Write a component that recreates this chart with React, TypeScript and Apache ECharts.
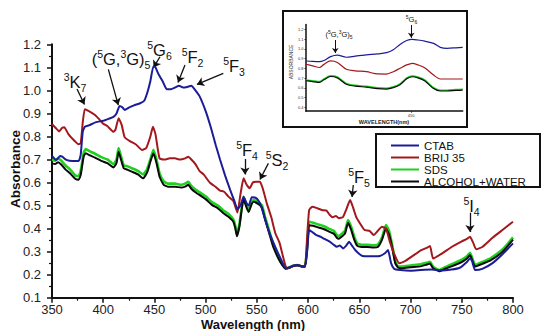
import React, { useEffect, useRef } from "react";
import * as echarts from "echarts";

const FONT = "'Liberation Sans', Arial, Helvetica, sans-serif";

// ---------- Main chart data ----------
const seriesNames = ["CTAB", "BRIJ 35", "SDS", "ALCOHOL+WATER"];
const seriesColors = ["#1c1c96", "#a3181c", "#1fd11f", "#0a0a0a"];

const xTickMin = 350;
const xTickMax = 800;
const xTickStep = 50;
const yTickMin = 0.1;
const yTickMax = 1.2;
const yTickStep = 0.1;

const ctabWl = [350, 354, 358, 360, 364, 370, 376, 378, 380, 382, 386, 393, 400, 406, 410, 413, 416, 419, 421, 425, 430, 436, 440, 443, 446, 449, 451, 454, 458, 462, 466, 470, 474, 478, 482, 486, 490, 494, 500, 505, 510, 514, 519, 524, 528, 531, 534, 537, 540, 542, 545, 548, 551, 554, 558, 562, 566, 570, 574, 578, 582, 586, 590, 594, 597, 599, 601, 604, 608, 612, 616, 621, 625, 628, 631, 634, 637, 640, 643, 646, 650, 653, 660, 665, 670, 675, 678, 681, 684, 690, 700, 710, 720, 730, 740, 748, 755, 758, 760, 763, 770, 780, 790, 800];
const ctabAbs = [0.715, 0.698, 0.715, 0.712, 0.698, 0.693, 0.693, 0.72, 0.82, 0.842, 0.848, 0.862, 0.868, 0.878, 0.885, 0.9, 0.932, 0.925, 0.915, 0.925, 0.935, 0.944, 0.955, 0.99, 1.04, 1.105, 1.1, 1.07, 1.04, 1.005, 1.005, 1.012, 1.02, 1.012, 1.015, 1.02, 1.0, 0.975, 0.91, 0.84, 0.76, 0.7, 0.63, 0.567, 0.52, 0.485, 0.5, 0.538, 0.51, 0.5, 0.536, 0.535, 0.525, 0.5, 0.44, 0.385, 0.34, 0.3, 0.262, 0.228, 0.232, 0.24, 0.242, 0.236, 0.236, 0.3, 0.394, 0.385, 0.372, 0.365, 0.355, 0.343, 0.33, 0.321, 0.327, 0.314, 0.325, 0.343, 0.325, 0.307, 0.29, 0.281, 0.28, 0.28, 0.281, 0.293, 0.307, 0.25, 0.225, 0.22, 0.217, 0.22, 0.222, 0.218, 0.222, 0.23, 0.255, 0.271, 0.26, 0.22, 0.225, 0.25, 0.29, 0.336];

const brijWl = [350, 354, 357, 360, 362, 366, 370, 376, 378, 380, 382, 386, 392, 396, 400, 404, 410, 412, 415, 418, 421, 426, 432, 438, 442, 446, 448.5, 451, 455, 460, 465, 470, 475, 480, 483, 486, 490, 494, 498, 504, 510, 514, 518, 522, 527, 531, 534, 537, 540, 543, 546, 549, 553, 556, 560, 564, 568, 572, 576, 579, 583, 587, 590, 594, 597, 599, 601, 604, 608, 614, 618, 621, 624, 627, 630, 634, 637, 641, 644, 647, 651, 655, 660, 664, 668, 672, 676, 680, 684, 689, 695, 700, 705, 710, 715, 719, 722, 730, 740, 750, 755, 758, 761, 764, 770, 780, 790, 800];
const brijAbs = [0.854, 0.835, 0.822, 0.838, 0.84, 0.81, 0.79, 0.766, 0.77, 0.86, 0.918, 0.91, 0.893, 0.875, 0.855, 0.845, 0.82, 0.83, 0.879, 0.85, 0.796, 0.78, 0.765, 0.741, 0.75, 0.8, 0.842, 0.81, 0.705, 0.7, 0.705, 0.705, 0.7, 0.705, 0.712, 0.7, 0.68, 0.65, 0.635, 0.6, 0.58, 0.565, 0.56, 0.54, 0.52, 0.47, 0.55, 0.618, 0.59, 0.575, 0.6, 0.603, 0.603, 0.57, 0.505, 0.45, 0.38, 0.34, 0.27, 0.228, 0.232, 0.24, 0.242, 0.236, 0.236, 0.36, 0.48, 0.495, 0.49, 0.48, 0.478, 0.46, 0.449, 0.455, 0.445, 0.45, 0.48, 0.524, 0.49, 0.45, 0.42, 0.394, 0.39, 0.372, 0.39, 0.408, 0.4, 0.34, 0.29, 0.25, 0.26, 0.275, 0.29, 0.305, 0.315, 0.324, 0.27, 0.29, 0.32, 0.345, 0.355, 0.365, 0.34, 0.31, 0.32, 0.36, 0.395, 0.43];

const sdsWl = [350, 353, 356, 359, 363, 368, 373, 376, 378, 381, 383, 387, 392, 398, 404, 410, 413, 415, 417, 420, 424, 428, 434, 439, 443, 446, 449, 452, 455, 459, 463, 470, 476, 480, 483, 486, 490, 495, 500, 506, 512, 517, 522, 527, 529, 530.5, 533, 537, 540, 542, 545, 547, 552, 555, 558, 562, 566, 571, 575, 578, 582, 586, 590, 594, 597, 599, 601, 605, 610, 615, 620, 625, 628, 630, 633, 636, 639, 642, 645, 648, 652, 658, 664, 668, 672, 676, 679, 682, 685, 688, 692, 700, 710, 716, 719, 722, 728, 735, 742, 750, 755, 758, 760, 763, 770, 778, 790, 800];
const sdsAbs = [0.7, 0.695, 0.705, 0.695, 0.675, 0.655, 0.63, 0.628, 0.65, 0.73, 0.745, 0.735, 0.725, 0.71, 0.7, 0.68, 0.7, 0.75, 0.72, 0.675, 0.67, 0.662, 0.65, 0.635, 0.66, 0.7, 0.742, 0.7, 0.64, 0.605, 0.595, 0.595, 0.59, 0.595, 0.603, 0.585, 0.57, 0.555, 0.54, 0.515, 0.5, 0.48, 0.465, 0.44, 0.41, 0.375, 0.42, 0.538, 0.5, 0.48, 0.515, 0.524, 0.512, 0.5, 0.45, 0.39, 0.33, 0.278, 0.245, 0.228, 0.232, 0.24, 0.242, 0.236, 0.236, 0.32, 0.43, 0.425, 0.418, 0.411, 0.4, 0.39, 0.372, 0.368, 0.378, 0.39, 0.437, 0.408, 0.365, 0.336, 0.33, 0.33, 0.328, 0.33, 0.36, 0.415, 0.39, 0.33, 0.26, 0.235, 0.235, 0.24, 0.245, 0.252, 0.256, 0.235, 0.22, 0.235, 0.249, 0.265, 0.28, 0.295, 0.275, 0.242, 0.255, 0.271, 0.31, 0.362];

const awWl = sdsWl;
const awAbs = [0.683, 0.68, 0.688, 0.678, 0.657, 0.638, 0.615, 0.612, 0.632, 0.715, 0.727, 0.718, 0.708, 0.694, 0.684, 0.665, 0.685, 0.734, 0.705, 0.662, 0.655, 0.647, 0.635, 0.618, 0.645, 0.69, 0.727, 0.685, 0.625, 0.59, 0.582, 0.582, 0.578, 0.582, 0.59, 0.573, 0.558, 0.543, 0.528, 0.503, 0.488, 0.468, 0.452, 0.43, 0.4, 0.367, 0.41, 0.528, 0.49, 0.472, 0.508, 0.516, 0.505, 0.49, 0.44, 0.38, 0.32, 0.27, 0.24, 0.226, 0.23, 0.238, 0.24, 0.234, 0.234, 0.31, 0.415, 0.412, 0.405, 0.398, 0.388, 0.378, 0.36, 0.356, 0.366, 0.378, 0.425, 0.395, 0.352, 0.325, 0.32, 0.32, 0.318, 0.32, 0.35, 0.4, 0.375, 0.32, 0.25, 0.23, 0.228, 0.232, 0.236, 0.244, 0.248, 0.228, 0.215, 0.228, 0.24, 0.255, 0.27, 0.285, 0.265, 0.235, 0.247, 0.262, 0.3, 0.352];

// ---------- Inset data ----------
const insetWl = [403, 406, 409, 411, 414, 417, 421, 425, 430, 435, 439, 442, 445, 448, 450.5, 453, 456, 460, 463, 466, 470, 473];
const insetCtab = [0.875, 0.87, 0.868, 0.88, 0.92, 0.935, 0.913, 0.925, 0.938, 0.947, 0.96, 0.99, 1.045, 1.085, 1.097, 1.09, 1.078, 1.056, 1.015, 1.005, 1.01, 1.015];
const insetBrij = [0.841, 0.825, 0.808, 0.84, 0.875, 0.86, 0.79, 0.774, 0.765, 0.742, 0.741, 0.765, 0.8, 0.835, 0.851, 0.835, 0.805, 0.731, 0.69, 0.69, 0.69, 0.69];
const insetSds = [0.68, 0.672, 0.663, 0.69, 0.724, 0.71, 0.645, 0.625, 0.615, 0.6, 0.595, 0.61, 0.64, 0.7, 0.721, 0.71, 0.68, 0.6, 0.575, 0.575, 0.582, 0.585];
const insetAw = [0.672, 0.664, 0.655, 0.682, 0.716, 0.702, 0.637, 0.617, 0.607, 0.592, 0.587, 0.602, 0.632, 0.692, 0.713, 0.702, 0.672, 0.592, 0.567, 0.567, 0.574, 0.577];
const insetYTicks = [0.4, 0.5, 0.6, 0.7, 0.8, 0.9, 1.0, 1.1, 1.2];
const insetXTicks = [450];

// ---------- Annotations ----------
const mainArrows = [
  [[374.4, 1.006], [381.7, 0.939]],
  [[405.0, 1.091], [414.7, 0.936]],
  [[455.4, 1.146], [449.1, 1.099]],
  [[479.8, 1.11], [473.0, 1.034]],
  [[517.2, 1.074], [491.5, 1.026]],
  [[538.4, 0.702], [538.4, 0.635]],
  [[561.2, 0.683], [553.0, 0.613]],
  [[644.1, 0.589], [642.9, 0.537]],
  [[758.0, 0.469], [758.0, 0.385]],
];
const insetArrows = [
  [[416.1, 1.09], [416.1, 0.956]],
  [[450.0, 1.244], [450.0, 1.112]],
];

function pairs(xs: number[], ys: number[]) {
  return xs.map((x, i) => [x, ys[i]]);
}

function term(sup: string, main: string, sub: string) {
  return `{sup|${sup}}{m|${main}}{sub|${sub}}`;
}

const mainRich = {
  m: { fontSize: 16.5, fontFamily: FONT, fill: "#111", lineHeight: 22 },
  sup: { fontSize: 10.5, fontFamily: FONT, fill: "#111", verticalAlign: "top", lineHeight: 22 },
  sub: { fontSize: 10.5, fontFamily: FONT, fill: "#111", verticalAlign: "bottom", lineHeight: 22 },
};
const insetRich = {
  m: { fontSize: 7.5, fontFamily: FONT, fill: "#111", lineHeight: 10 },
  sup: { fontSize: 5, fontFamily: FONT, fill: "#111", verticalAlign: "top", lineHeight: 10 },
  sub: { fontSize: 5, fontFamily: FONT, fill: "#111", verticalAlign: "bottom", lineHeight: 10 },
};

const mainLabels = [
  { text: term("3", "K", "7"), x: 75, y: 82 },
  { text: `{m|(}{sup|5}{m|G,}{sup|3}{m|G)}{sub|5}`, x: 121, y: 59 },
  { text: term("5", "G", "6"), x: 159.5, y: 50 },
  { text: term("5", "F", "2"), x: 192.5, y: 57 },
  { text: term("5", "F", "3"), x: 234, y: 66 },
  { text: term("5", "F", "4"), x: 247, y: 150 },
  { text: term("5", "S", "2"), x: 277, y: 160 },
  { text: term("5", "F", "5"), x: 359, y: 177 },
  { text: term("5", "I", "4"), x: 471.5, y: 206 },
];
const insetLabels = [
  { text: `{m|(}{sup|5}{m|G,}{sup|3}{m|G)}{sub|5}`, x: 339, y: 34 },
  { text: term("5", "G", "6"), x: 411.5, y: 19 },
];

function arrowData(list: number[][][]) {
  return list.map(([a, b]) => [{ coord: a }, { coord: b }]);
}

export default function App() {
  const ref = useRef<HTMLDivElement>(null);

  useEffect(() => {
    if (!ref.current) return;
    const chart = echarts.init(ref.current, undefined, { renderer: "svg" });

    const mainData = [
      pairs(ctabWl, ctabAbs),
      pairs(brijWl, brijAbs),
      pairs(sdsWl, sdsAbs),
      pairs(awWl, awAbs),
    ];
    const insetData = [
      pairs(insetWl, insetCtab),
      pairs(insetWl, insetBrij),
      pairs(insetWl, insetSds),
      pairs(insetWl, insetAw),
    ];
    const drawOrder = [2, 3, 1, 0];

    const mainSeries: any[] = drawOrder.map((i) => ({
      name: seriesNames[i],
      type: "line",
      xAxisIndex: 0,
      yAxisIndex: 0,
      data: mainData[i],
      showSymbol: false,
      symbol: "none",
      smooth: 0.15,
      lineStyle: { color: seriesColors[i], width: i === 2 ? 2.6 : 2 },
      itemStyle: { color: seriesColors[i] },
      z: 3 + drawOrder.indexOf(i),
      silent: true,
    }));
    mainSeries[mainSeries.length - 1].markLine = {
      silent: true,
      symbol: ["none", "arrow"],
      symbolSize: 7,
      label: { show: false },
      lineStyle: { color: "#111", width: 1.3, type: "solid" },
      emphasis: { disabled: true },
      data: arrowData(mainArrows),
    };

    const insetSeries: any[] = drawOrder.map((i) => ({
      name: seriesNames[i] + " (inset)",
      type: "line",
      xAxisIndex: 1,
      yAxisIndex: 1,
      data: insetData[i],
      showSymbol: false,
      symbol: "none",
      smooth: 0.3,
      lineStyle: { color: seriesColors[i], width: i === 2 ? 1.6 : 1.2 },
      itemStyle: { color: seriesColors[i] },
      silent: true,
    }));
    insetSeries[insetSeries.length - 1].markLine = {
      silent: true,
      symbol: ["none", "arrow"],
      symbolSize: 5,
      label: { show: false },
      lineStyle: { color: "#111", width: 1, type: "solid" },
      emphasis: { disabled: true },
      data: arrowData(insetArrows),
    };

    const axisLabelStyle = { color: "#222", fontSize: 13, fontFamily: FONT };

    chart.setOption({
      animation: false,
      backgroundColor: "#ffffff",
      textStyle: { fontFamily: FONT },
      grid: [
        { left: 52, top: 44.3, right: 29, bottom: 33.3, containLabel: false },
        { left: 306, top: 24.4, width: 156.7, height: 86.8, containLabel: false },
      ],
      xAxis: [
        {
          type: "value",
          gridIndex: 0,
          min: xTickMin,
          max: xTickMax,
          interval: xTickStep,
          axisLine: { show: true, onZero: false, lineStyle: { color: "#111", width: 2 } },
          axisTick: { show: true, length: 5, lineStyle: { color: "#111", width: 1.5 } },
          minorTick: { show: true, splitNumber: 2, length: 3, lineStyle: { color: "#111", width: 1.2 } },
          splitLine: { show: false },
          axisLabel: { ...axisLabelStyle, margin: 5, lineHeight: 13 },
        },
        {
          type: "value",
          gridIndex: 1,
          min: 403,
          max: 473,
          axisLine: { show: true, onZero: false, lineStyle: { color: "#111", width: 1.5 } },
          axisTick: { show: true, length: 1.5, customValues: insetXTicks, lineStyle: { color: "#111", width: 0.8 } },
          splitLine: { show: false },
          axisLabel: { customValues: insetXTicks, color: "#333", fontSize: 4, fontFamily: FONT, margin: 2 },
        },
      ],
      yAxis: [
        {
          type: "value",
          gridIndex: 0,
          min: yTickMin,
          max: yTickMax,
          interval: yTickStep,
          axisLine: { show: true, onZero: false, lineStyle: { color: "#111", width: 2 } },
          axisTick: { show: true, length: 5, lineStyle: { color: "#111", width: 1.5 } },
          minorTick: { show: true, splitNumber: 2, length: 3, lineStyle: { color: "#111", width: 1.2 } },
          splitLine: { show: false },
          axisLabel: { ...axisLabelStyle, margin: 11, formatter: (v: number) => v.toFixed(1) },
        },
        {
          type: "value",
          gridIndex: 1,
          min: 0.36,
          max: 1.25,
          axisLine: { show: true, onZero: false, lineStyle: { color: "#111", width: 1.5 } },
          axisTick: { show: true, length: 1.5, customValues: insetYTicks, lineStyle: { color: "#111", width: 0.8 } },
          splitLine: { show: false },
          axisLabel: {
            customValues: insetYTicks,
            color: "#333",
            fontSize: 4,
            fontFamily: FONT,
            margin: 2.5,
            formatter: (v: number) => v.toFixed(1),
          },
        },
      ],
      legend: {
        show: true,
        orient: "vertical",
        left: 391,
        top: 139.5,
        padding: 0,
        itemWidth: 28,
        itemHeight: 2,
        itemGap: 0,
        icon: "rect",
        data: seriesNames,
        textStyle: { fontSize: 11.5, lineHeight: 10.5, color: "#111", fontFamily: FONT },
        selectedMode: false,
      },
      graphic: [
        {
          type: "rect",
          z: -1,
          shape: { x: 283, y: 11, width: 184, height: 116 },
          style: { fill: "#fff", stroke: "#111", lineWidth: 2 },
          silent: true,
        },
        {
          type: "rect",
          z: 10,
          shape: { x: 376, y: 134, width: 164, height: 53 },
          style: { fill: "none", stroke: "#111", lineWidth: 2 },
          silent: true,
        },
        {
          type: "text",
          x: 15,
          y: 169,
          rotation: Math.PI / 2,
          style: {
            text: "Absorbance",
            font: `bold 13.5px ${FONT}`,
            fill: "#111",
            align: "center",
            verticalAlign: "middle",
          },
          silent: true,
        },
        {
          type: "text",
          x: 253,
          y: 324,
          style: {
            text: "Wavelength (nm)",
            font: `bold 13px ${FONT}`,
            fill: "#111",
            align: "center",
            verticalAlign: "middle",
          },
          silent: true,
        },
        {
          type: "text",
          x: 291,
          y: 62,
          rotation: Math.PI / 2,
          style: {
            text: "ABSORBANCE",
            font: `5px ${FONT}`,
            fill: "#222",
            align: "center",
            verticalAlign: "middle",
          },
          silent: true,
        },
        {
          type: "text",
          x: 384,
          y: 122,
          style: {
            text: "WAVELENGTH(nm)",
            font: `bold 5.5px ${FONT}`,
            fill: "#222",
            align: "center",
            verticalAlign: "middle",
          },
          silent: true,
        },
        ...mainLabels.map((l) => ({
          type: "text",
          x: l.x,
          y: l.y,
          z: 20,
          style: { text: l.text, rich: mainRich, align: "center", verticalAlign: "middle", fill: "#111" },
          silent: true,
        })),
        ...insetLabels.map((l) => ({
          type: "text",
          x: l.x,
          y: l.y,
          z: 20,
          style: { text: l.text, rich: insetRich, align: "center", verticalAlign: "middle", fill: "#111" },
          silent: true,
        })),
      ],
      series: [...mainSeries, ...insetSeries],
    });

    return () => {
      chart.dispose();
    };
  }, []);

  return (
    <div
      ref={ref}
      style={{ position: "fixed", left: 0, top: 0, width: 542, height: 331, background: "#fff" }}
    />
  );
}
